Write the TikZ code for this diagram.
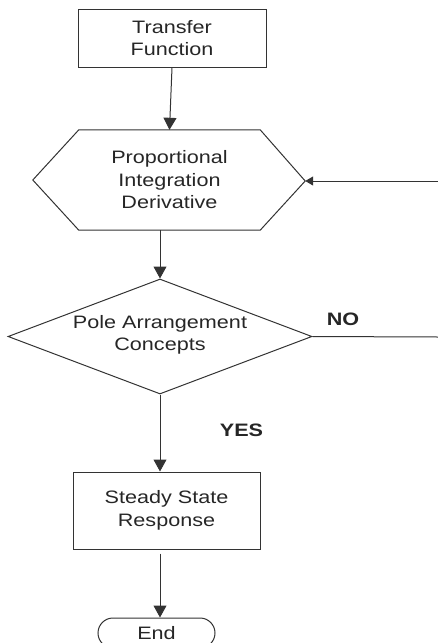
\documentclass[tikz,border=0pt]{standalone}
\usepackage{fontspec}
\setmainfont{Liberation Sans}[FakeStretch=1.2]
\usetikzlibrary{shapes.geometric,shapes.misc,arrows.meta,calc}
\begin{document}
\begin{tikzpicture}[x=1pt,y=-1pt,
  every node/.style={font=\fontsize{18}{22.5}\selectfont, align=center, inner sep=0pt, text=black!85},
  line/.style={draw=black!80, line width=1pt},
  box/.style={line, rectangle},
  arr/.style={line, -{Triangle[width=13pt,length=12pt]}},
  smallarr/.style={line, -{Triangle[width=9pt,length=8pt]}},
  lbl/.style={font=\fontsize{18}{22.5}\selectfont\bfseries}]
\useasboundingbox (0,0) rectangle (438,643);
\node[box, minimum width=188pt, minimum height=58pt] (tf) at (172,38) {Transfer\\Function};
\node[minimum width=181pt, minimum height=100pt] (pid) at (169.5,180) {Proportional\\Integration\\Derivative};
\draw[line] (pid.north west) -- (pid.north east) -- ($(pid.east)+(45,1)$) coordinate (pidr)
  -- (pid.south east) -- (pid.south west) -- ($(pid.west)+(-46,0)$) -- cycle;
\node[line, diamond, minimum width=304pt, minimum height=115pt] (dia) at (160,336.5) {};
\node at (160,335) {Pole Arrangement\\Concepts};
\node[box, minimum width=187pt, minimum height=77pt] (ssr) at (166.5,510.5) {Steady State\\Response};
\node[line, rounded rectangle, minimum width=117pt, minimum height=30pt] (end) at (156.5,633) {End};
\node[lbl] (no) at (343,319) {NO};
\node[lbl] (yes) at (241.5,430) {YES};
\coordinate (fbr) at (438,337);
\coordinate (fbt) at (438,181);
\draw[arr] (tf.south) -- (pid.north);
\draw[arr] (pid.south -| dia.north) -- (dia.north);
\draw[line] (dia.east) -- (fbr);
\draw[smallarr] (fbt) -- (pidr);
\draw[arr] (dia.south) -- (dia.south |- ssr.north);
\draw[arr] ($(dia.south |- ssr.south)+(0,4)$) -- (dia.south |- end.north);
\end{tikzpicture}
\end{document}
